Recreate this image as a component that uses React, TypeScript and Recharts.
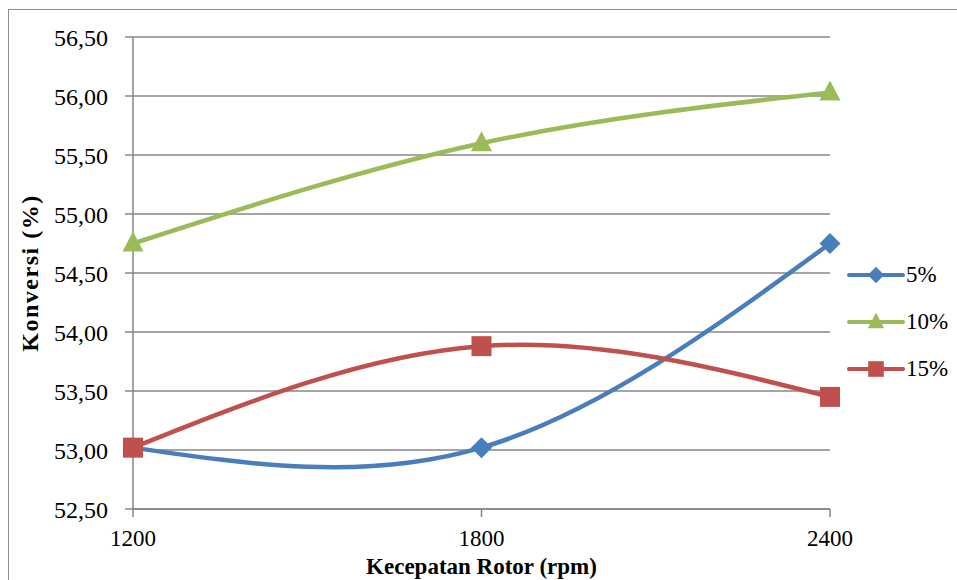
import { LineChart, Line, XAxis, YAxis, CartesianGrid, Label } from 'recharts';

const speeds = ['1200', '1800', '2400'];
const conv5 = [53.02, 53.02, 54.75];
const conv10 = [54.75, 55.6, 56.03];
const conv15 = [53.02, 53.88, 53.45];
const yTicks = [52.5, 53, 53.5, 54, 54.5, 55, 55.5, 56, 56.5];

const data = speeds.map((s, i) => ({ rpm: s, p5: conv5[i], p10: conv10[i], p15: conv15[i] }));

const series = [
    { key: 'p5', name: '5%', color: '#4A7EBB', shape: 'diamond' },
    { key: 'p10', name: '10%', color: '#9BBB59', shape: 'triangle' },
    { key: 'p15', name: '15%', color: '#C0504D', shape: 'square' },
];

const font = "'Liberation Serif', 'Times New Roman', serif";
const grey = '#878787';

const Marker = ({ shape, cx, cy, color, s = 1 }) => {
    if (shape === 'diamond') {
        const r = 10.5 * s;
        return <polygon points={`${cx},${cy - r} ${cx + r},${cy} ${cx},${cy + r} ${cx - r},${cy}`} fill={color} />;
    }
    if (shape === 'triangle') {
        return <polygon points={`${cx},${cy - 12 * s} ${cx + 10.5 * s},${cy + 8 * s} ${cx - 10.5 * s},${cy + 8 * s}`} fill={color} />;
    }
    return <rect x={cx - 10 * s} y={cy - 10 * s} width={20 * s} height={20 * s} fill={color} />;
};

const makeDot = (shape, color) => (props) => {
    const { cx, cy, index } = props;
    if (cx == null || cy == null) return null;
    return <Marker key={`${shape}-${index}`} shape={shape} cx={cx} cy={cy} color={color} />;
};

const LegendBox = () => (
    <div style={{ position: 'absolute', left: 845, top: 251, fontFamily: font, fontSize: 23 }}>
        {series.map((s) => (
            <div key={s.key} style={{ display: 'flex', alignItems: 'center', height: 47 }}>
                <svg width={60} height={30}>
                    <line x1={4} y1={15} x2={58} y2={15} stroke={s.color} strokeWidth={4} strokeLinecap="round" />
                    <Marker shape={s.shape} cx={31} cy={15} color={s.color} s={0.78} />
                </svg>
                <span style={{ color: '#000', marginLeft: 1 }}>{s.name}</span>
            </div>
        ))}
    </div>
);

const YTitle = ({ viewBox }) => {
    const cx = 30;
    const cy = viewBox.y + viewBox.height / 2;
    return (
        <text
            x={cx}
            y={cy}
            transform={`rotate(-90 ${cx} ${cy})`}
            textAnchor="middle"
            dominantBaseline="central"
            fill="#000"
            fontSize={24}
            fontWeight="bold"
            fontFamily={font}
            letterSpacing={1.5}
        >
            Konversi (%)
        </text>
    );
};

const XTitle = ({ viewBox }) => (
    <text
        x={viewBox.x + viewBox.width / 2}
        y={viewBox.y + viewBox.height - 6}
        textAnchor="middle"
        fill="#000"
        fontSize={23}
        fontWeight="bold"
        fontFamily={font}
    >
        Kecepatan Rotor (rpm)
    </text>
);

const KonversiChart = () => {
    return (
        <div style={{ position: 'absolute', left: 0, top: 0, width: 957, height: 580, overflow: 'hidden', background: '#fff' }}>
            <div style={{ position: 'absolute', left: 8, top: 9, width: 1000, height: 700, border: '1.5px solid #8C8C8C' }} />
            <LineChart
                width={957}
                height={580}
                data={data}
                margin={{ top: 37, right: 127, bottom: 0, left: 8 }}
                style={{ position: 'absolute', left: 0, top: 0 }}
            >
                <CartesianGrid vertical={false} stroke={grey} strokeWidth={1.5} />
                <XAxis
                    dataKey="rpm"
                    height={71}
                    axisLine={{ stroke: grey, strokeWidth: 1.5 }}
                    tickLine={{ stroke: grey, strokeWidth: 1.5 }}
                    tickSize={8}
                    tickMargin={13}
                    tick={{ fill: '#000', fontSize: 23, fontFamily: font }}
                >
                    <Label content={XTitle} />
                </XAxis>
                <YAxis
                    width={125}
                    domain={[52.5, 56.5]}
                    ticks={yTicks}
                    interval={0}
                    axisLine={{ stroke: grey, strokeWidth: 1.5 }}
                    tickLine={{ stroke: grey, strokeWidth: 1.5 }}
                    tickSize={8}
                    tickMargin={17}
                    tickFormatter={(v) => v.toFixed(2).replace('.', ',')}
                    tick={{ fill: '#000', fontSize: 24, fontFamily: font }}
                >
                    <Label content={YTitle} />
                </YAxis>
                {series.map((s) => (
                    <Line
                        key={s.key}
                        type="natural"
                        dataKey={s.key}
                        name={s.name}
                        stroke={s.color}
                        strokeWidth={4.5}
                        dot={makeDot(s.shape, s.color)}
                        activeDot={false}
                        isAnimationActive={false}
                    />
                ))}
            </LineChart>
            <LegendBox />
        </div>
    );
};

export default function App() {
    return <KonversiChart />;
}
